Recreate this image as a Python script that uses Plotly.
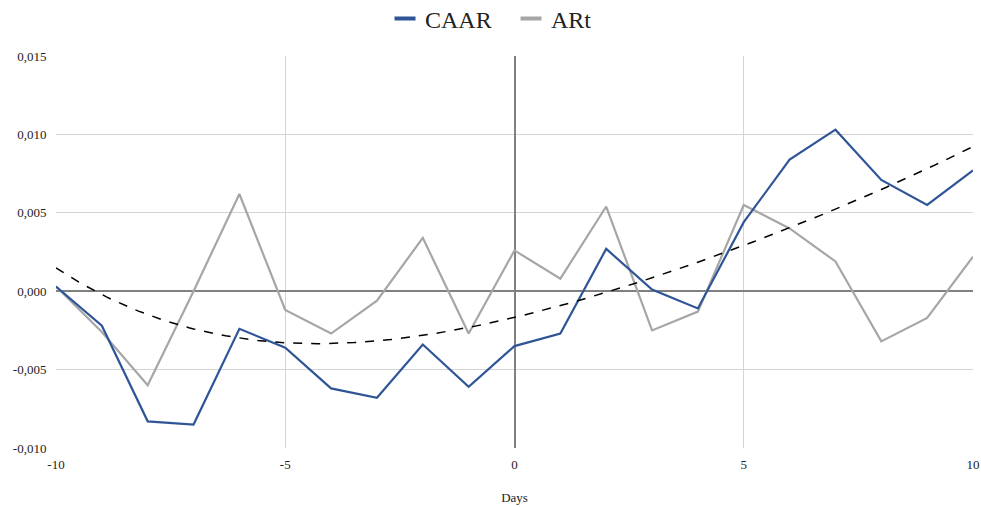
import numpy as np
import plotly.graph_objects as go

days = list(range(-10, 11))
caar = [0.0003, -0.0022, -0.0083, -0.0085, -0.0024, -0.0036, -0.0062, -0.0068, -0.0034, -0.0061,
        -0.0035, -0.0027, 0.0027, 0.0001, -0.0011, 0.0044, 0.0084, 0.0103, 0.0071, 0.0055, 0.0077]
art = [0.0003, -0.0026, -0.0060, 0.0000, 0.0062, -0.0012, -0.0027, -0.0006, 0.0034, -0.0027,
       0.0026, 0.0008, 0.0054, -0.0025, -0.0013, 0.0055, 0.0040, 0.0019, -0.0032, -0.0017, 0.0022]
# trendline values (smoothed with a polynomial)
trend_read = [0.0016, -0.0003, -0.0016, -0.0024, -0.0030, -0.0033, -0.0033, -0.0031, -0.0027, -0.0023,
              -0.0017, -0.0010, -0.0001, 0.0008, 0.0019, 0.0028, 0.0040, 0.0053, 0.0066, 0.0079, 0.0091]
y_ticks = [-0.010, -0.005, 0.000, 0.005, 0.010, 0.015]
y_labels = ["-0,010", "-0,005", "0,000", "0,005", "0,010", "0,015"]
x_ticks = [-10, -5, 0, 5, 10]
x_labels = ["-10", "-5", "0", "5", "10"]

coef = np.polyfit(days, trend_read, 4)
xs = np.linspace(-10, 10, 201)
trend = np.polyval(coef, xs)

blue = "#2f5597"
grey = "#a6a6a6"
font = "Liberation Serif"

fig = go.Figure()
fig.add_trace(go.Scatter(x=days, y=art, mode="lines", name="ARt", showlegend=False,
                         line=dict(color=grey, width=2.2)))
fig.add_trace(go.Scatter(x=days, y=caar, mode="lines", name="CAAR", showlegend=False,
                         line=dict(color=blue, width=2.2)))
fig.add_trace(go.Scatter(x=xs, y=trend, mode="lines", showlegend=False,
                         line=dict(color="black", width=1.5, dash="dash"), hoverinfo="skip"))
# legend entries (short thick line markers)
for nm, col in [("CAAR", blue), ("ARt", grey)]:
    fig.add_trace(go.Scatter(x=[None], y=[None], mode="markers", name=nm,
                             marker=dict(symbol="line-ew", size=15, color=col,
                                         line=dict(width=4, color=col))))

fig.update_layout(
    width=981, height=507,
    margin=dict(l=56, r=8, t=56, b=59, autoexpand=False),
    plot_bgcolor="white", paper_bgcolor="white",
    font=dict(family=font, size=13, color="#222"),
    legend=dict(orientation="h", x=0.3588, xanchor="left", y=1.152, yanchor="top",
                entrywidth=81, font=dict(family=font, size=24, color="#222"), itemclick=False),
    showlegend=True,
)
fig.update_xaxes(range=[-10, 10], tickvals=x_ticks, ticktext=x_labels,
                 showgrid=True, gridcolor="#d4d4d4", gridwidth=1,
                 zeroline=True, zerolinecolor="#808080", zerolinewidth=1.5,
                 showline=False, ticks="outside", ticklen=4, tickcolor="rgba(0,0,0,0)",
                 ticklabeloverflow="allow",
                 title=dict(text="Days", font=dict(family=font, size=13), standoff=22))
fig.update_yaxes(range=[-0.010, 0.015], tickvals=y_ticks, ticktext=y_labels,
                 showgrid=True, gridcolor="#d4d4d4", gridwidth=1,
                 zeroline=True, zerolinecolor="#808080", zerolinewidth=1.5,
                 showline=False, ticks="outside", ticklen=6, tickcolor="rgba(0,0,0,0)")
fig.write_html("out.html", config={"displayModeBar": False},
               post_script="document.body.style.margin='0';")
